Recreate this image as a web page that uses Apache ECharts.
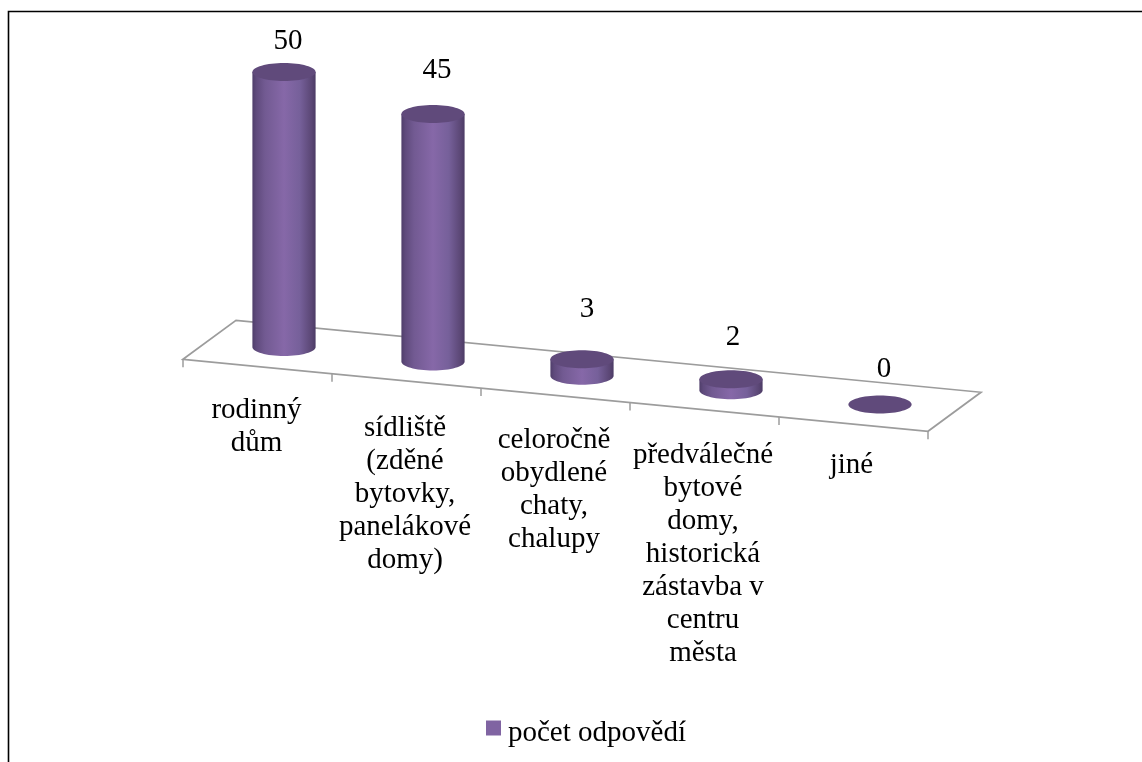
<!DOCTYPE html>
<html>
<head>
<meta charset="utf-8">
<style>html,body{margin:0;padding:0;background:#fff}#chart{width:1142px;height:762px}</style>
<script src="https://cdn.jsdelivr.net/npm/echarts@6/dist/echarts.min.js"></script>
</head>
<body>
<div id="chart"></div>
<script>
const categories = [
  'rodinný\ndům',
  'sídliště\n(zděné\nbytovky,\npanelákové\ndomy)',
  'celoročně\nobydlené\nchaty,\nchalupy',
  'předválečné\nbytové\ndomy,\nhistorická\nzástavba v\ncentru\nměsta',
  'jiné'
];
const answers = [50, 45, 3, 2, 0];
const seriesName = 'počet odpovědí';

// Hand placement of the value labels above each cylinder top (px, x then lift)
const valueShift = [4, 4, 5, 2, 4];
const valueLift = [31, 44, 50, 42, 35];
// Category label placement below the floor: x shift and y of the first line
const catShift = [-1, -1.5, -1.5, -1.5, -2];
const catFirstLineY = [410, 428, 440, 455, 465];

// Oblique floor projection
const SLOPE = 0.0966;
const DEPTH_X = 26.5;
const DEPTH_Y = 19.5;
const RX = 31.6;
const RY = 9;
const FONT = '"Liberation Serif","Times New Roman",serif';
const FONT_SIZE = 29;
const LINE_H = 33;
const FLOOR_COLOR = '#9c9c9c';

const sideFill = {
  type: 'linear', x: 0, y: 0, x2: 1, y2: 0,
  colorStops: [
    { offset: 0, color: '#4f3e6a' },
    { offset: 0.06, color: '#5f4a7c' },
    { offset: 0.2, color: '#725a92' },
    { offset: 0.5, color: '#8668a8' },
    { offset: 0.75, color: '#76609a' },
    { offset: 0.94, color: '#5a4674' },
    { offset: 1, color: '#4c3b65' }
  ]
};

// Vertical drop of the receding floor relative to the first category
function skew(api, x) {
  return (x - api.coord([0, 0])[0]) * SLOPE;
}

function renderFloor(params, api) {
  const zero = api.coord([0, 0]);
  const band = api.size([1, 0])[0];
  const point = (i, dir) => {
    const x = zero[0] + (i - 0.5) * band;
    return [x + dir * DEPTH_X, zero[1] + (x - zero[0]) * SLOPE - dir * DEPTH_Y];
  };
  const n = categories.length;
  const children = [{
    type: 'polygon',
    shape: { points: [point(0, -1), point(0, 1), point(n, 1), point(n, -1)] },
    style: { stroke: FLOOR_COLOR, lineWidth: 1.7, fill: null },
    silent: true
  }];
  for (let i = 0; i <= n; i++) {
    const p = point(i, -1);
    children.push({
      type: 'line',
      shape: { x1: p[0], y1: p[1], x2: p[0], y2: p[1] + 8 },
      style: { stroke: FLOOR_COLOR, lineWidth: 1.5 },
      silent: true
    });
  }
  return { type: 'group', children: children };
}

function renderCylinder(params, api) {
  const i = api.value(0);
  const value = api.value(1);
  const base = api.coord([i, 0]);
  const top = api.coord([i, value]);
  const drop = skew(api, base[0]);
  const cx = base[0];
  const yBase = base[1] + drop;
  const yTop = top[1] + drop;
  const children = [];

  if (value > 0) {
    const k = 0.5523;
    const l = cx - RX, r = cx + RX;
    children.push({
      type: 'path',
      shape: {
        pathData:
          `M${l} ${yTop}L${l} ${yBase}` +
          `C${l} ${yBase + RY * k} ${cx - RX * k} ${yBase + RY} ${cx} ${yBase + RY}` +
          `C${cx + RX * k} ${yBase + RY} ${r} ${yBase + RY * k} ${r} ${yBase}` +
          `L${r} ${yTop}Z`
      },
      style: { fill: sideFill },
      silent: true
    });
  }
  children.push({
    type: 'ellipse',
    shape: { cx: cx, cy: yTop, rx: RX, ry: RY },
    style: { fill: '#604a7b' },
    silent: true
  });

  children.push({
    type: 'text',
    style: {
      text: String(value),
      x: cx + valueShift[i],
      y: yTop - valueLift[i],
      align: 'center',
      verticalAlign: 'middle',
      font: `${FONT_SIZE}px ${FONT}`,
      fill: '#000'
    },
    silent: true
  });

  // Category name sits under the middle of the band on the floor's front edge
  categories[i].split('\n').forEach((line, n) => {
    children.push({
      type: 'text',
      style: {
        text: line,
        x: cx - DEPTH_X + catShift[i],
        y: catFirstLineY[i] + n * LINE_H,
        align: 'center',
        verticalAlign: 'middle',
        font: `${FONT_SIZE}px ${FONT}`,
        fill: '#000'
      },
      silent: true
    });
  });
  return { type: 'group', children: children };
}

const chart = echarts.init(document.getElementById('chart'), null, { renderer: 'canvas' });
chart.setOption({
  animation: false,
  backgroundColor: '#fff',
  grid: { left: 209.5, top: 72, width: 745, height: 275, containLabel: false },
  xAxis: { type: 'category', data: categories, show: false },
  yAxis: { type: 'value', min: 0, max: 50, show: false },
  legend: {
    data: [seriesName],
    left: 486,
    top: 718.5,
    padding: 0,
    itemWidth: 15,
    itemHeight: 15,
    itemGap: 0,
    icon: 'rect',
    formatter: name => `{t|${name}}`,
    textStyle: {
      rich: {
        t: { fontFamily: FONT, fontSize: FONT_SIZE, color: '#000', padding: [10, 0, 0, 2] }
      }
    }
  },
  graphic: [{
    type: 'polyline',
    shape: { points: [[8.5, 762], [8.5, 11.5], [1142, 11.5]] },
    style: { stroke: '#000', lineWidth: 1.6, fill: null },
    silent: true
  }],
  series: [
    {
      type: 'custom',
      name: 'floor',
      renderItem: renderFloor,
      data: [[0, 0]],
      z: 1,
      clip: false,
      silent: true
    },
    {
      type: 'custom',
      name: seriesName,
      renderItem: renderCylinder,
      encode: { x: 0, y: 1 },
      data: answers.map((v, i) => [i, v]),
      itemStyle: { color: '#8064a2' },
      z: 2,
      clip: false,
      silent: true
    }
  ]
});
</script>
</body>
</html>
